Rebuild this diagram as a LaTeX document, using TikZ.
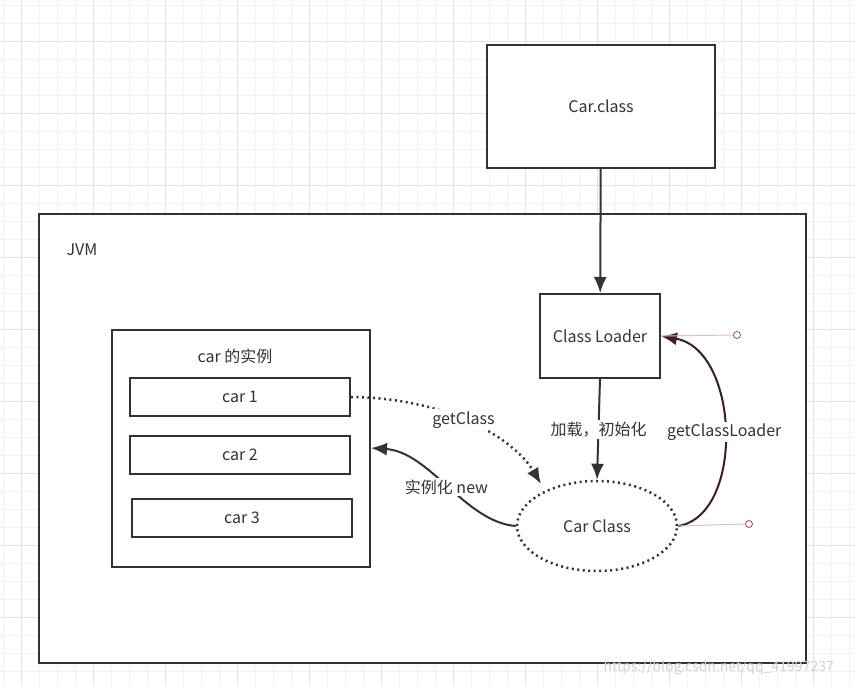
\documentclass[tikz,border=0pt]{standalone}
\usepackage{fontspec}
\setmainfont{Noto Sans CJK SC}
\usepackage{tikz}
\usetikzlibrary{arrows.meta,shapes.geometric}

\definecolor{ink}{HTML}{333333}
\definecolor{gridminor}{HTML}{F2F2F2}
\definecolor{gridmajor}{HTML}{E3E3E3}
\definecolor{handle}{HTML}{D9BFC3}
\definecolor{handlept}{HTML}{A8485A}

\begin{document}
\begin{tikzpicture}[x=1pt,y=-1pt,
  box/.style={rectangle, draw=ink, line width=2pt, fill=white, text=ink, font=\fontsize{16}{19}\selectfont},
  oval/.style={ellipse, draw=ink, line width=2.5pt, dash pattern=on 2pt off 3.5pt, fill=white, text=ink, font=\fontsize{16}{19}\selectfont},
  arrow/.style={-{Latex[length=16pt,width=13pt]}, line width=2pt, draw=ink},
  lbl/.style={fill=white, text=ink, inner sep=2pt, font=\fontsize{16}{19}\selectfont}
]
\useasboundingbox (0,0) rectangle (855,686);
\fill[white] (0,0) rectangle (855,686);

% grid
\foreach \x in {3.3,21.3,...,855} \draw[gridminor, line width=1pt] (\x,0) -- (\x,686);
\foreach \y in {5.3,23.3,...,686} \draw[gridminor, line width=1pt] (0,\y) -- (855,\y);
\foreach \x in {21.3,93.3,...,855} \draw[gridmajor, line width=1pt] (\x,0) -- (\x,686);
\foreach \y in {41.3,113.3,...,686} \draw[gridmajor, line width=1pt] (0,\y) -- (855,\y);

% class file and JVM
\node[box, minimum width=228pt, minimum height=123pt] (carclass) at (601,106.5) {Car.class};
\node[box, minimum width=767pt, minimum height=449pt] (jvm) at (422.5,438.5) {};
\node[text=ink, font=\fontsize{16}{19}\selectfont] (jvmlbl) at (82,250) {JVM};

% loader and class object
\node[box, minimum width=120pt, minimum height=84pt] (loader) at (600,336) {Class Loader};
\node[oval, minimum width=160pt, minimum height=90pt] (carobj) at (597,526) {Car Class};

% instances
\node[box, minimum width=258pt, minimum height=237pt] (cars) at (241,448.5) {};
\node[text=ink, font=\fontsize{16}{19}\selectfont] (carslbl) at (235,356) {car 的实例};
\node[box, minimum width=220pt, minimum height=38pt] (car1) at (240,397) {car 1};
\node[box, minimum width=220pt, minimum height=38pt] (car2) at (240,455) {car 2};
\node[box, minimum width=220pt, minimum height=38pt] (car3) at (242,517.5) {car 3};

% connectors
\draw[arrow] (carclass) -- (loader);
\draw[arrow] (loader.south) -- node[lbl] {加载，初始化} (carobj.north);
\draw[arrow, line width=2.5pt, dash pattern=on 2pt off 3.5pt] (car1.east) .. controls (450,398) and (515,440) .. node[lbl, pos=0.45] {getClass} (541,484);
\draw[arrow] (carobj.west) .. controls (465,522) and (430,452) .. node[lbl, pos=0.5] {实例化 new} (cars.east |- 0,448);
\draw[arrow, draw=ink!80!red!70!black] (carobj.east) .. controls (745,515) and (740,350) .. node[lbl, pos=0.5] {getClassLoader} (loader.east);

% selection handles
\coordinate (h1) at (737,335);
\coordinate (h2) at (749,524);
\draw[handle, line width=1pt] (loader.east) -- ([xshift=-4pt]h1);
\draw[handle, line width=1pt] (carobj.east) -- ([xshift=-4pt]h2);
\draw[handlept, line width=0.8pt, fill=white] (h1) circle (3.5pt);
\draw[handlept, line width=0.8pt, fill=white] (h2) circle (3.5pt);

% watermark
\node[text=gray!35, font=\fontsize{14}{17}\selectfont, anchor=west] (mark) at (600,668) {https://blog.csdn.net/qq\_41997237};
\end{tikzpicture}
\end{document}
